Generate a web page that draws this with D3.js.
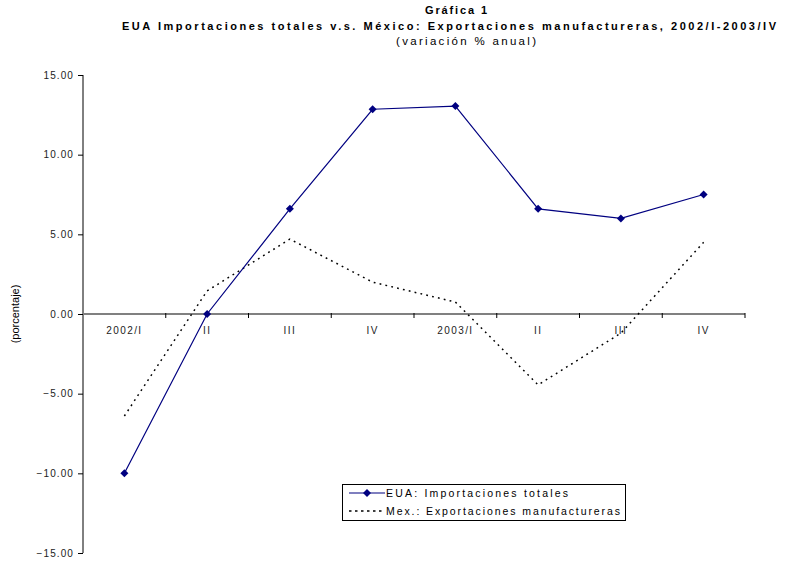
<!DOCTYPE html>
<html>
<head>
<meta charset="utf-8">
<script src="https://cdn.jsdelivr.net/npm/d3@7"></script>
<style>
  html, body { margin: 0; padding: 0; background: #fff; }
  svg { display: block; font-family: "Liberation Sans", Arial, sans-serif; }
</style>
</head>
<body>
<svg id="chart" width="804" height="562"></svg>
<script>
const categories = ["2002/I", "II", "III", "IV", "2003/I", "II ", "III ", "IV "];
const categoryLabels = ["2002/I", "II", "III", "IV", "2003/I", "II", "III", "IV"];
const euaImportaciones = [-10.0, 0.0, 6.6, 12.85, 13.05, 6.6, 6.0, 7.5];
const mexExportaciones = [-6.4, 1.45, 4.7, 2.0, 0.75, -4.45, -1.2, 4.5];
const yTicks = [15, 10, 5, 0, -5, -10, -15];

(function () {
const svg = d3.select("#chart");
const pL = 83, pR = 745, pT = 75, pB = 553;

const x = d3.scaleBand().domain(categories).range([pL, pR]).paddingInner(0).paddingOuter(0);
const y = d3.scaleLinear().domain([-15, 15]).range([pB, pT]);
const cx = d => x(d) + x.bandwidth() / 2;

// Titles
const titles = [
  {t: "Gráfica 1", y: 14, bold: true, x: 456, w: 62, fs: 11},
  {t: "EUA Importaciones totales v.s. México: Exportaciones manufactureras, 2002/I-2003/IV", y: 30, bold: true, x: 449, w: 654, fs: 11},
  {t: "(variación % anual)", y: 45, bold: false, x: 466, w: 140, fs: 11.5}
];
svg.selectAll("text.title").data(titles).join("text")
  .attr("class", "title")
  .attr("x", d => d.x).attr("y", d => d.y)
  .attr("text-anchor", "middle")
  .attr("font-size", d => d.fs)
  .attr("font-weight", d => d.bold ? "bold" : "normal")
  .attr("textLength", d => d.w)
  .attr("lengthAdjust", "spacing")
  .attr("fill", "#000")
  .text(d => d.t);

// Y axis
const yAxis = d3.axisLeft(y).tickValues(yTicks).tickSize(5).tickFormat(d3.format(".2f"));
const gy = svg.append("g").attr("transform", `translate(${pL},0)`).call(yAxis);
gy.select(".domain").attr("stroke", "#000").attr("d", `M0,${pT}V${pB}`);
gy.selectAll(".tick line").attr("stroke", "#000");
gy.selectAll(".tick text").attr("font-size", 10).style("letter-spacing", "1.1px")
  .attr("font-family", "Liberation Sans, Arial, sans-serif").attr("fill", "#222").attr("x", -9);

// Y label
svg.append("text")
  .attr("transform", `translate(19,${y(0)}) rotate(-90)`)
  .attr("text-anchor", "middle")
  .attr("font-size", 11)
  .attr("fill", "#000")
  .text("(porcentaje)");

// X axis at zero
const xAxis = d3.axisBottom(x).tickSize(0).tickFormat((d, i) => categoryLabels[i]);
const gx = svg.append("g").attr("transform", `translate(0,${y(0)})`).call(xAxis);
gx.select(".domain").remove();
gx.selectAll(".tick text").attr("font-size", 10).style("letter-spacing", "1.4px")
  .attr("font-family", "Liberation Sans, Arial, sans-serif").attr("fill", "#222").attr("dy", "1.7em");
svg.append("line").attr("x1", pL).attr("x2", pR).attr("y1", y(0)).attr("y2", y(0))
  .attr("stroke", "#808080").attr("stroke-width", 2);
const bounds = categories.map(c => x(c) + x.bandwidth());
svg.selectAll("line.btick").data(bounds).join("line").attr("class", "btick")
  .attr("x1", d => d).attr("x2", d => d).attr("y1", y(0) - 1).attr("y2", y(0) + 4)
  .attr("stroke", "#000").attr("stroke-width", 1);

// Lines
const lineGen = vals => d3.line().x((d, i) => cx(categories[i])).y(d => y(d))(vals);
svg.append("path").attr("d", lineGen(mexExportaciones))
  .attr("fill", "none").attr("stroke", "#000").attr("stroke-width", 1.5).attr("stroke-dasharray", "1.8,4.2");
svg.append("path").attr("d", lineGen(euaImportaciones))
  .attr("fill", "none").attr("stroke", "#000080").attr("stroke-width", 1.2);
const diamond = d3.symbol().type(d3.symbolSquare).size(32);
svg.selectAll("path.mk").data(euaImportaciones).join("path").attr("class", "mk")
  .attr("d", diamond)
  .attr("transform", (d, i) => `translate(${cx(categories[i])},${y(d)}) rotate(45)`)
  .attr("fill", "#000080");

// Legend
const lg = svg.append("g");
lg.append("rect").attr("x", 342.5).attr("y", 484.5).attr("width", 283).attr("height", 36)
  .attr("fill", "#fff").attr("stroke", "#000").attr("stroke-width", 1);
lg.append("line").attr("x1", 349).attr("x2", 385).attr("y1", 493).attr("y2", 493)
  .attr("stroke", "#000080").attr("stroke-width", 1.2);
lg.append("path").attr("d", diamond).attr("transform", "translate(367,493) rotate(45)").attr("fill", "#000080");
lg.append("line").attr("x1", 349).attr("x2", 385).attr("y1", 511).attr("y2", 511)
  .attr("stroke", "#000").attr("stroke-width", 1.5).attr("stroke-dasharray", "2.5,3.5");
lg.append("text").attr("x", 386).attr("y", 497).attr("font-size", 10.5)
  .attr("textLength", 182).attr("lengthAdjust", "spacing")
  .text("EUA: Importaciones totales");
lg.append("text").attr("x", 386).attr("y", 515).attr("font-size", 10.5)
  .attr("textLength", 234).attr("lengthAdjust", "spacing")
  .text("Mex.: Exportaciones manufactureras");
})();
</script>
</body>
</html>
